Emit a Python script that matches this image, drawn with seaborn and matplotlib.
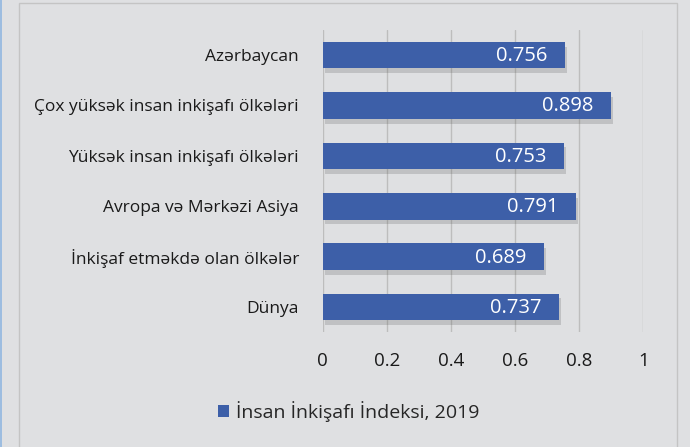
import matplotlib
matplotlib.use('Agg')
import matplotlib.pyplot as plt
import matplotlib.patheffects as pe
import pandas as pd
import seaborn as sns

categories = ['Azərbaycan', 'Çox yüksək insan inkişafı ölkələri', 'Yüksək insan inkişafı ölkələri',
              'Avropa və Mərkəzi Asiya', 'İnkişaf etməkdə olan ölkələr', 'Dünya']
values = [0.756, 0.898, 0.753, 0.791, 0.689, 0.737]
series_name = 'İnsan İnkişafı İndeksi, 2019'
xticks = [0, 0.2, 0.4, 0.6, 0.8, 1]

df = pd.DataFrame({'region': categories, 'hdi': values})

sns.set_style('white')
plt.rcParams['font.family'] = ['Open Sans', 'DejaVu Sans']

bg = '#dfe0e2'
fig = plt.figure(figsize=(6.9, 4.47), dpi=100, facecolor=bg)
ax = fig.add_axes([0.4677, 0.257, 0.4647, 0.676])
ax.set_facecolor('none')

sns.barplot(data=df, x='hdi', y='region', color='#3d5fa8', saturation=1,
            width=0.53, label=series_name, ax=ax, zorder=3, edgecolor='none', linewidth=0)

leg = ax.legend(loc='center', bbox_to_anchor=(0.505, 0.08), bbox_transform=fig.transFigure,
                frameon=False, fontsize=14, handlelength=0.6, handleheight=0.6, handletextpad=0.35)

# soft drop shadow under the bars
for bar in ax.patches:
    bar.set_path_effects([pe.SimplePatchShadow(offset=(1.5, -3.5), shadow_rgbFace='#555555', alpha=0.22),
                          pe.Normal()])

for bar, v in zip(ax.patches, values):
    ax.text(bar.get_width() - 0.055, bar.get_y() + bar.get_height() / 2 + 0.02, f'{v:.3f}',
            ha='right', va='center', color='white', fontsize=14.5, zorder=4)

ax.set_xlim(0, 1)
ax.set_xticks(xticks)
ax.set_xticklabels([f'{t:g}' for t in xticks])
ax.grid(axis='x', color='#bdbdbd', linewidth=1, zorder=0)
ax.set_xlabel('')
ax.set_ylabel('')
for s in ax.spines.values():
    s.set_visible(False)
ax.tick_params(axis='both', length=0, colors='#1a1a1a')
ax.tick_params(axis='y', labelsize=12.5, pad=17)
ax.tick_params(axis='x', labelsize=13.5, pad=14)

# frame like the source slide
fig.add_artist(plt.Rectangle((0.027, -0.01), 0.954, 1.004, transform=fig.transFigure,
                             fill=False, edgecolor='#c4c4c4', linewidth=1))
fig.add_artist(plt.Rectangle((0.0, 0.0), 0.003, 1.0, transform=fig.transFigure,
                             color='#9dbde0', linewidth=0))

fig.savefig('out.png', dpi=100, facecolor=bg)
